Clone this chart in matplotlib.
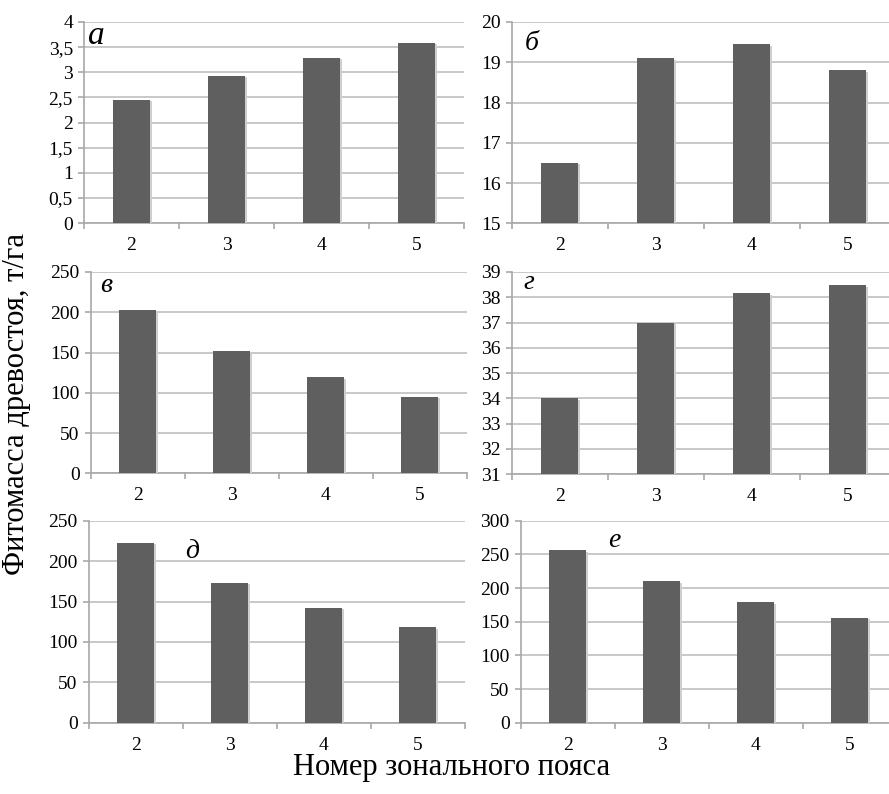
import matplotlib
matplotlib.use('Agg')
import matplotlib.pyplot as plt
import matplotlib.patheffects as pe
import numpy as np

plt.rcParams['font.family'] = ['Liberation Serif', 'DejaVu Serif']

zones = ['2', '3', '4', '5']

val_a = [2.45, 2.93, 3.29, 3.58]
val_b = [16.5, 19.1, 19.45, 18.8]
val_v = [203, 152, 119, 95]
val_g = [34.0, 37.0, 38.15, 38.47]
val_d = [223, 173, 142, 118]
val_e = [256, 210, 179, 156]

ticks_a = [0, 0.5, 1, 1.5, 2, 2.5, 3, 3.5, 4]
ticks_b = [15, 16, 17, 18, 19, 20]
ticks_v = [0, 50, 100, 150, 200, 250]
ticks_g = [31, 32, 33, 34, 35, 36, 37, 38, 39]
ticks_d = [0, 50, 100, 150, 200, 250]
ticks_e = [0, 50, 100, 150, 200, 250, 300]

W, H = 889, 794
fig = plt.figure(figsize=(W / 100, H / 100), dpi=100)


def box(x0, x1, y0, y1):
    return [x0 / W, 1 - y1 / H, (x1 - x0) / W, (y1 - y0) / H]


panels = [
    (box(84, 464, 22, 223), val_a, ticks_a, 'а', (0.01, 0.89), 24),
    (box(511.7, 895.7, 22, 223.3), val_b, ticks_b, 'б', (0.035, 0.86), 20),
    (box(90.7, 466.7, 272, 473.3), val_v, ticks_v, 'в', (0.025, 0.90), 20),
    (box(511.7, 895.7, 272, 474), val_g, ticks_g, 'г', (0.03, 0.914), 20),
    (box(88.7, 464.7, 520.7, 722.7), val_d, ticks_d, 'д', (0.256, 0.815), 20),
    (box(520.7, 896.7, 520.7, 722.7), val_e, ticks_e, 'е', (0.232, 0.871), 20),
]

grid_c = '#c4c4c4'
bar_c = '#5f5f5f'

for pos, vals, yt, let, lpos, lsize in panels:
    ax = fig.add_axes(pos)
    x = np.arange(1, len(zones) + 1)
    bars = ax.bar(x, vals, width=0.39, color=bar_c, zorder=3)
    for b in bars:
        b.set_path_effects([pe.SimplePatchShadow(offset=(1.2, -1.0), shadow_rgbFace='#cfcfcf', alpha=1.0),
                            pe.Normal()])
    ax.set_xlim(0.5, len(zones) + 0.5)
    ax.set_ylim(yt[0], yt[-1])
    ax.set_yticks(yt)
    ax.set_yticklabels([('%g' % t).replace('.', ',') for t in yt])
    ax.set_xticks(x)
    ax.set_xticklabels(zones)
    ax.set_xticks(np.arange(0.5, len(zones) + 1, 1), minor=True)
    ax.yaxis.grid(True, color=grid_c, linewidth=1.3, zorder=0)
    ax.set_axisbelow(True)
    for s in ['top', 'right']:
        ax.spines[s].set_visible(False)
    for s in ['left', 'bottom']:
        ax.spines[s].set_color('#a8a8a8')
        ax.spines[s].set_linewidth(1.2)
    ax.tick_params(axis='y', direction='out', length=4, width=1.2, color='#a8a8a8',
                   labelsize=14, pad=4)
    ax.tick_params(axis='x', which='major', length=0, labelsize=14, pad=10)
    ax.tick_params(axis='x', which='minor', direction='out', length=4, width=1.2, color='#a8a8a8')
    ax.text(lpos[0], lpos[1], let, transform=ax.transAxes, fontsize=lsize,
            fontstyle='italic', va='baseline', ha='left')

fig.text(17 / W, 1 - 404 / H, 'Фитомасса древостоя, т/га', rotation=90,
         ha='center', va='center', fontsize=22)
fig.text(452 / W, 1 - 768 / H, 'Номер зонального пояса', ha='center', va='center', fontsize=22)

fig.savefig('out.png', dpi=100)
